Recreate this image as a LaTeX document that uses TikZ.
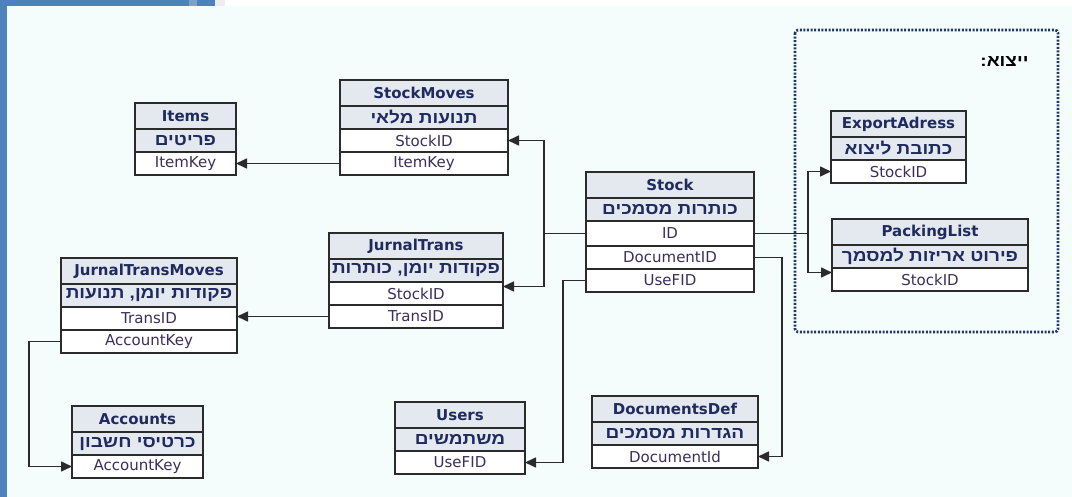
\documentclass[tikz,border=0pt]{standalone}
\usepackage{fontspec}
\setmainfont{DejaVu Sans}
\newfontfamily\hebfont[Script=Hebrew,FakeStretch=1.15]{Liberation Sans}
\TeXXeTstate=1
\usetikzlibrary{positioning,arrows.meta}

\definecolor{winblue}{HTML}{4F81BD}
\definecolor{winlight}{HTML}{7DA0CF}
\definecolor{wingray}{HTML}{EDEDED}
\definecolor{paper}{HTML}{F5FDFC}
\definecolor{hdrfill}{HTML}{E4E8EF}
\definecolor{edge}{HTML}{2B2B2B}
\definecolor{titletext}{HTML}{1F2B5E}
\definecolor{fieldtext}{HTML}{3A2F5B}
\definecolor{exportline}{HTML}{1F3864}

\newcommand{\hebtxt}[1]{{\hebfont\bfseries\beginR #1\endR}}

\tikzset{
  ttl/.style={draw=edge, fill=hdrfill, line width=1.7pt, outer sep=0pt, inner sep=0pt,
    minimum height=26pt, anchor=north west, text=titletext,
    font=\bfseries\fontsize{15}{18}\selectfont},
  sub/.style={ttl, minimum height=23pt, font=\fontsize{16.5}{18}\selectfont},
  fld/.style={ttl, fill=white, minimum height=23pt, text=fieldtext,
    font=\fontsize{15}{18}\selectfont},
  link/.style={draw=edge, line width=1.6pt, -{Triangle[length=11pt,width=10pt]}}
}

\begin{document}
\begin{tikzpicture}[x=1pt,y=-1pt]
\useasboundingbox (0,0) rectangle (1072,497);

% window edge and background
\fill[white] (0,0) rectangle (1072,497);
\fill[paper] (7,6) rectangle (1072,497);
\fill[winblue] (0,0) rectangle (7,497);
\fill[winblue] (0,0) rectangle (215,6);
\fill[winlight] (189,0) rectangle (197,6);
\fill[wingray] (215,0) rectangle (225,6);

% export group
\draw[exportline, line width=2.6pt, dash pattern=on 2pt off 1.6pt, rounded corners=3pt]
  (795,30) rectangle (1058,332);
\node[anchor=east, font=\fontsize{16.5}{18}\selectfont] (exportlbl) at (1032,62) {\hebtxt{ייצוא:}};

% Items
\begin{scope}[every node/.append style={minimum width=101pt}]
\node[ttl] (it) at (135,103) {Items};
\node[sub, below=0pt of it] (it-h) {\hebtxt{פריטים}};
\node[fld, below=0pt of it-h] (it-key) {ItemKey};
\end{scope}

% StockMoves
\begin{scope}[every node/.append style={minimum width=168pt}]
\node[ttl] (sm) at (340,80) {StockMoves};
\node[sub, below=0pt of sm] (sm-h) {\hebtxt{תנועות מלאי}};
\node[fld, below=0pt of sm-h] (sm-sid) {StockID};
\node[fld, below=0pt of sm-sid] (sm-key) {ItemKey};
\end{scope}

% Stock
\begin{scope}[every node/.append style={minimum width=168pt}]
\node[ttl] (st) at (586,172) {Stock};
\node[sub, below=0pt of st] (st-h) {\hebtxt{כותרות מסמכים}};
\node[fld, below=0pt of st-h, minimum height=25pt] (st-id) {ID};
\node[fld, below=0pt of st-id] (st-doc) {DocumentID};
\node[fld, below=0pt of st-doc] (st-use) {UseFID};
\end{scope}

% JurnalTrans
\begin{scope}[every node/.append style={minimum width=174pt}]
\node[ttl] (jt) at (329,233) {JurnalTrans};
\node[sub, below=0pt of jt] (jt-h) {\hebtxt{פקודות יומן, כותרות}};
\node[fld, below=0pt of jt-h] (jt-sid) {StockID};
\node[fld, below=0pt of jt-sid] (jt-tid) {TransID};
\end{scope}

% JurnalTransMoves
\begin{scope}[every node/.append style={minimum width=176pt}]
\node[ttl] (jtm) at (61,258) {JurnalTransMoves};
\node[sub, below=0pt of jtm] (jtm-h) {\hebtxt{פקודות יומן, תנועות}};
\node[fld, below=0pt of jtm-h] (jtm-tid) {TransID};
\node[fld, below=0pt of jtm-tid] (jtm-acc) {AccountKey};
\end{scope}

% Accounts
\begin{scope}[every node/.append style={minimum width=131pt}]
\node[ttl] (ac) at (72,406) {Accounts};
\node[sub, below=0pt of ac] (ac-h) {\hebtxt{כרטיסי חשבון}};
\node[fld, below=0pt of ac-h] (ac-key) {AccountKey};
\end{scope}

% Users
\begin{scope}[every node/.append style={minimum width=130pt}]
\node[ttl] (us) at (395,402) {Users};
\node[sub, below=0pt of us] (us-h) {\hebtxt{משתמשים}};
\node[fld, below=0pt of us-h] (us-key) {UseFID};
\end{scope}

% DocumentsDef
\begin{scope}[every node/.append style={minimum width=166pt}]
\node[ttl] (dd) at (592,396) {DocumentsDef};
\node[sub, below=0pt of dd] (dd-h) {\hebtxt{הגדרות מסמכים}};
\node[fld, below=0pt of dd-h] (dd-key) {DocumentId};
\end{scope}

% ExportAdress
\begin{scope}[every node/.append style={minimum width=135pt}]
\node[ttl] (ex) at (831,111) {ExportAdress};
\node[sub, below=0pt of ex] (ex-h) {\hebtxt{כתובת ליצוא}};
\node[fld, below=0pt of ex-h] (ex-sid) {StockID};
\end{scope}

% PackingList
\begin{scope}[every node/.append style={minimum width=196pt}]
\node[ttl] (pl) at (832,219) {PackingList};
\node[sub, below=0pt of pl] (pl-h) {\hebtxt{פירוט אריזות למסמך}};
\node[fld, below=0pt of pl-h] (pl-sid) {StockID};
\end{scope}

% links
\draw[link] (sm-key.west) -- (it-key.east);
\draw[edge, line width=1.6pt] (st-id.west) -- ++(-42,0) coordinate (splitl);
\draw[link] (splitl) |- (sm-sid.east);
\draw[link] (splitl) |- ([yshift=7pt]jt-sid.east);
\draw[edge, line width=1.6pt] (st-id.east) -- ++(54,0) coordinate (splitr);
\draw[link] (splitr) |- (ex-sid.west);
\draw[link] (splitr) |- ([yshift=7pt]pl-sid.west);
\draw[link] (st-doc.east) -- ++(28,0) |- (dd-key.east);
\draw[link] (st-use.west) -- ++(-23,0) |- (us-key.east);
\draw[link] (jt-tid.west) -- (jt-tid.west -| jtm-tid.east);
\draw[link] (jtm-acc.west) -- ++(-32,0) |- (ac-key.west);
\end{tikzpicture}
\end{document}
